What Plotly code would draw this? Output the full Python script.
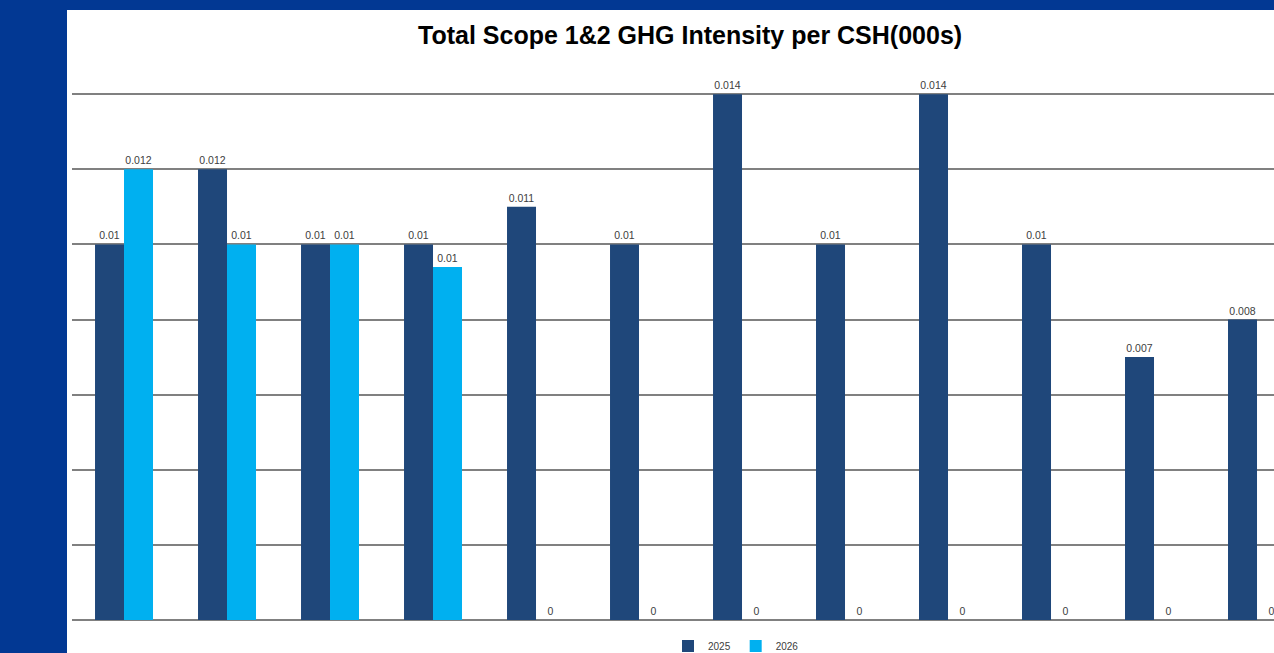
import plotly.graph_objects as go

categories = ["1", "2", "3", "4", "5", "6", "7", "8", "9", "10", "11", "12"]
series_2025 = [0.01, 0.012, 0.01, 0.01, 0.011, 0.01, 0.014, 0.01, 0.014, 0.01, 0.007, 0.008]
series_2026 = [0.012, 0.01, 0.01, 0.0094, 0, 0, 0, 0, 0, 0, 0, 0]
labels_2025 = ["0.01", "0.012", "0.01", "0.01", "0.011", "0.01", "0.014", "0.01", "0.014", "0.01", "0.007", "0.008"]
labels_2026 = ["0.012", "0.01", "0.01", "0.01", "0", "0", "0", "0", "0", "0", "0", "0"]
y_ticks = [0, 0.002, 0.004, 0.006, 0.008, 0.010, 0.012, 0.014, 0.016]

W, H = 1274, 653
L, R, T, B = 72, 0, 19, 33
PW, PH = W - L - R, H - T - B

def px_x(p):
    return (p - L) / PW

def px_y(p):
    return (H - B - p) / PH

lab_font = dict(family="Liberation Sans, Arial", size=10.5, color="#404040")

fig = go.Figure()
fig.add_trace(go.Bar(name="2025", x=categories, y=series_2025, text=labels_2025,
                     textposition="outside", textfont=lab_font, cliponaxis=False,
                     marker=dict(color="#1F477A", line=dict(width=0))))
fig.add_trace(go.Bar(name="2026", x=categories, y=series_2026, text=labels_2026,
                     textposition="outside", textfont=lab_font, cliponaxis=False,
                     marker=dict(color="#00B0F0", line=dict(width=0))))

fig.update_layout(
    width=W, height=H + 8, autosize=False,
    margin=dict(l=L, r=R, t=T, b=B, pad=0),
    paper_bgcolor="white", plot_bgcolor="white",
    barmode="group", bargap=0.437, bargroupgap=0,
    showlegend=True,
    legend=dict(orientation="h", x=px_x(736), xanchor="center", y=px_y(646), yanchor="middle",
                font=dict(family="Liberation Sans, Arial", size=10, color="#404040"),
                itemwidth=30, bgcolor="rgba(0,0,0,0)"),
    xaxis=dict(range=[-0.505, 11.165], showticklabels=False, showgrid=False, ticks="",
               showline=False, zeroline=False),
    yaxis=dict(range=[0, 0.016], tickvals=y_ticks, showticklabels=False, showgrid=True,
               gridcolor="#808080", gridwidth=1.5, zeroline=True, zerolinecolor="#808080",
               zerolinewidth=1.5, showline=False, ticks=""),
    annotations=[dict(text="<b>Total Scope 1&amp;2 GHG Intensity per CSH(000s)</b>",
                      xref="paper", yref="paper", x=px_x(690), y=px_y(35),
                      xanchor="center", yanchor="middle", showarrow=False,
                      font=dict(family="Liberation Sans, Arial", size=25, color="black"))],
    shapes=[
        dict(type="rect", xref="paper", yref="paper", x0=px_x(0), x1=px_x(67), y0=px_y(H + 20), y1=px_y(0),
             fillcolor="#023893", line=dict(width=0), layer="above"),
        dict(type="rect", xref="paper", yref="paper", x0=px_x(0), x1=px_x(W), y0=px_y(10), y1=px_y(0),
             fillcolor="#023893", line=dict(width=0), layer="above"),
    ],
)

fig.write_html("out.html",
               config={"responsive": False, "displayModeBar": False},
               post_script="document.body.style.margin='0';document.body.style.overflow='hidden';")
